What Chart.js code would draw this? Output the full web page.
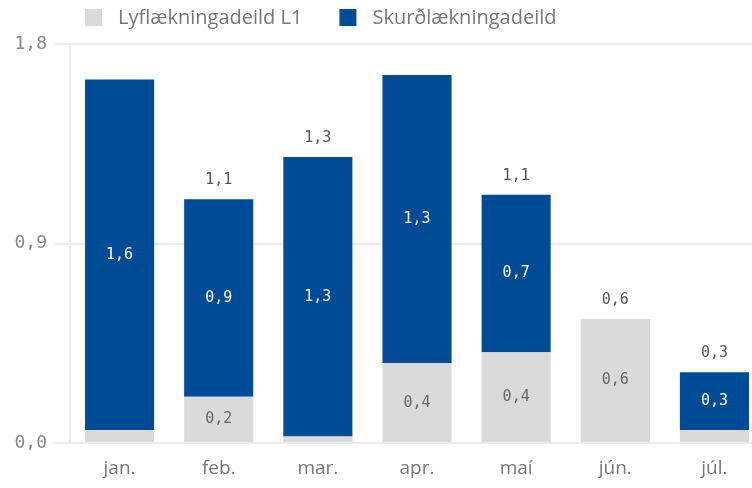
<!DOCTYPE html>
<html>
<head>
<meta charset="utf-8">
<script src="https://cdn.jsdelivr.net/npm/chart.js@4/dist/chart.umd.min.js"></script>
<style>
  html, body { margin: 0; padding: 0; background: #fff; overflow: hidden; }
  #wrap { width: 764px; height: 488px; }
</style>
</head>
<body>
<div id="wrap"><canvas id="deildir"></canvas></div>
<script>
var months = ["jan.", "feb.", "mar.", "apr.", "maí", "jún.", "júl."];
var lyf = [0.06, 0.21, 0.03, 0.36, 0.41, 0.56, 0.06];
var skurd = [1.58, 0.89, 1.26, 1.30, 0.71, 0, 0.26];
var yTicks = [0, 0.9, 1.8];
var seriesNames = ["Lyflækningadeild L1", "Skurðlækningadeild"];
var seriesColors = ["#dadada", "#004b96"];

var monoFont = "'DejaVu Sans Mono', monospace";
var sansFont = "'Open Sans', sans-serif";

function fmt(v) {
    return v.toFixed(1).replace(".", ",");
}

// labels inside the segments and the totals above
var labelPlugin = {
    id: "barlabels",
    afterDatasetsDraw: function (chart) {
        var ctx = chart.ctx;
        ctx.save();
        ctx.font = "15px " + monoFont;
        ctx.textAlign = "center";
        ctx.textBaseline = "middle";
        chart.data.datasets.forEach(function (ds, di) {
            var meta = chart.getDatasetMeta(di);
            meta.data.forEach(function (bar, i) {
                var v = ds.data[i];
                if (v < 0.1) return;
                ctx.fillStyle = di === 0 ? "#666666" : "#ffffff";
                ctx.fillText(fmt(v), bar.x, (bar.y + bar.base) / 2);
            });
        });
        var top = chart.getDatasetMeta(1);
        for (var i = 0; i < months.length; i++) {
            var total = lyf[i] + skurd[i];
            if (total > 1.5) continue;
            var y = chart.scales.y.getPixelForValue(total);
            ctx.fillStyle = "#555555";
            ctx.fillText(fmt(total), top.data[i].x, y - 19);
        }
        ctx.restore();
    }
};

// simple legend on top, left aligned over the plot
var legendPlugin = {
    id: "toplegend",
    afterDraw: function (chart) {
        var ctx = chart.ctx;
        ctx.save();
        ctx.font = "20px " + sansFont;
        ctx.textBaseline = "middle";
        ctx.textAlign = "left";
        var x = 85;
        for (var i = 0; i < seriesNames.length; i++) {
            ctx.fillStyle = seriesColors[i];
            ctx.fillRect(x, 9, 17, 17);
            ctx.fillStyle = "#777777";
            ctx.fillText(seriesNames[i], x + 33, 18);
            x += 33 + ctx.measureText(seriesNames[i]).width + 37;
        }
        ctx.restore();
    }
};

var ctx = document.getElementById("deildir");
var myChart = new Chart(ctx, {
    type: "bar",
    data: {
        labels: months,
        datasets: [
            {
                label: seriesNames[0],
                data: lyf,
                backgroundColor: seriesColors[0]
            },
            {
                label: seriesNames[1],
                data: skurd,
                backgroundColor: seriesColors[1]
            }
        ]
    },
    options: {
        responsive: true,
        maintainAspectRatio: false,
        animation: false,
        layout: { padding: { top: 44, right: 0, left: 0, bottom: 2 } },
        datasets: {
            bar: { categoryPercentage: 0.697, barPercentage: 1.0 }
        },
        plugins: {
            tooltip: { enabled: false },
            legend: { display: false }
        },
        scales: {
            x: {
                stacked: true,
                grid: { display: false },
                border: { display: false },
                ticks: {
                    color: "#777777",
                    padding: 6,
                    font: { family: sansFont, size: 19 }
                }
            },
            y: {
                stacked: true,
                min: 0,
                max: 1.8,
                afterBuildTicks: function (axis) {
                    axis.ticks = yTicks.map(function (v) { return { value: v }; });
                },
                afterFit: function (axis) {
                    axis.width = 70;
                },
                grid: { color: "#ececec", lineWidth: 2, tickLength: 15 },
                border: { display: true, color: "#ececec", width: 2 },
                ticks: {
                    color: "#888888",
                    padding: 8,
                    font: { family: monoFont, size: 18 },
                    callback: function (v) { return fmt(v); }
                }
            }
        }
    },
    plugins: [labelPlugin, legendPlugin]
});
</script>
</body>
</html>
